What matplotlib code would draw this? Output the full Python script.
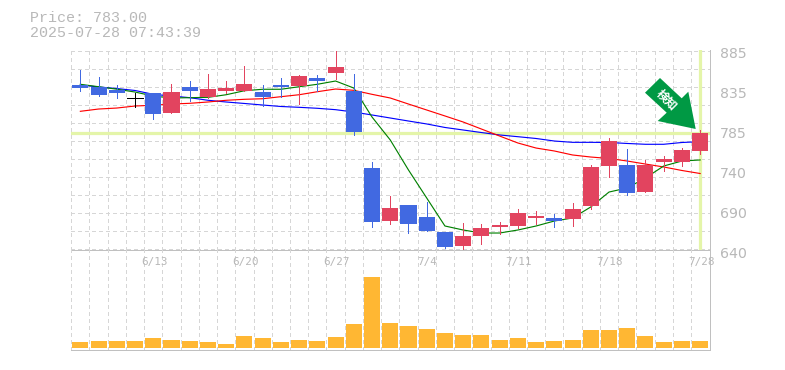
import numpy as np
import matplotlib
matplotlib.use("Agg")
import matplotlib.pyplot as plt
from matplotlib.patches import Polygon
from matplotlib.transforms import Affine2D

price_now = 783.00
stamp = "2025-07-28 07:43:39"
tick_dates = {4: "6/13", 9: "6/20", 14: "6/27", 19: "7/4", 24: "7/11", 29: "7/18", 34: "7/28"}
price_labels = ["640", "690", "740", "785", "835", "885"]

opens = [842.1, 839.3, 836.0, 825.8, 832.3, 807.8, 839.7, 827.4, 834.8, 834.8, 833.5, 842.0,
         840.9, 850.7, 856.8, 834.8, 740.5, 675.5, 695.1, 680.4, 662.0, 644.9, 657.2, 668.2,
         669.4, 679.2, 679.2, 678.0, 693.9, 742.9, 744.1, 711.0, 747.8, 747.8, 761.3]
closes = [838.8, 829.9, 832.7, 825.8, 806.6, 833.5, 834.8, 837.2, 838.4, 843.4, 827.4, 839.7,
          853.2, 847.0, 864.2, 784.6, 674.3, 691.4, 671.9, 663.3, 643.7, 657.2, 667.0, 670.6,
          685.3, 681.6, 675.5, 690.2, 741.7, 773.5, 709.8, 744.1, 751.5, 762.5, 783.3]
highs = [860.5, 852.0, 842.0, 832.0, 832.3, 843.3, 847.0, 855.6, 847.0, 865.4, 842.0, 850.7,
         854.4, 854.4, 884.0, 855.6, 747.8, 706.2, 695.1, 698.8, 662.0, 673.0, 671.9, 674.3,
         690.2, 687.8, 684.1, 697.6, 744.1, 777.2, 763.7, 750.3, 755.2, 765.0, 787.0]
lows = [835.1, 828.6, 826.2, 815.5, 800.5, 807.8, 822.5, 826.2, 832.3, 834.8, 816.4, 827.4,
        818.9, 834.8, 849.5, 780.9, 668.2, 671.9, 660.8, 663.3, 642.5, 641.2, 647.3, 659.6,
        667.0, 671.9, 668.2, 669.4, 690.2, 729.4, 707.4, 711.0, 736.8, 742.9, 757.6]
ma_short = [843.0, 840.0, 837.0, 833.5, 828.6, 826.2, 826.6, 827.0, 830.2, 835.1, 836.9, 836.9,
            840.0, 843.0, 847.0, 838.4, 802.9, 774.8, 738.0, 703.7, 669.4, 664.5, 660.8, 660.8,
            664.5, 669.4, 675.5, 679.2, 692.7, 711.0, 716.0, 728.2, 742.9, 749.0, 750.3]
ma_mid = [809.9, 812.7, 813.9, 816.4, 817.3, 818.8, 819.7, 821.3, 823.4, 824.6, 825.3, 827.8,
          830.2, 833.9, 837.2, 835.6, 830.7, 826.2, 818.8, 811.5, 804.2, 796.8, 788.2, 779.6,
          771.1, 764.9, 761.3, 756.4, 753.9, 752.1, 749.0, 745.3, 741.7, 737.4, 733.7]
ma_long = [842.1, 839.7, 837.8, 835.4, 830.7, 828.6, 826.6, 823.4, 821.3, 819.5, 817.6, 815.8,
           814.8, 813.6, 811.9, 809.0, 805.4, 801.7, 798.0, 794.4, 790.1, 787.0, 783.9, 780.9,
           778.8, 776.6, 773.5, 771.9, 771.9, 771.7, 770.5, 769.5, 769.5, 771.7, 772.7]
volumes = [6, 7, 7, 7, 10, 8, 7, 6, 4, 12, 10, 6, 8, 7, 11, 24, 71, 25,
           22, 19, 15, 13, 13, 8, 10, 6, 7, 8, 18, 18, 20, 12, 6, 7, 7]

W, H = 785, 370
RED, BLUE, ORANGE = "#e2445f", "#4169e1", "#ffb733"
GRID, FRAME, TEXT, HILITE = "#d6d6d6", "#c0c0c0", "#b8b8b8", "#e4f5a9"
PX = 0.72  # one pixel in points at dpi 100

plt.rcParams["font.family"] = ["DejaVu Sans", "Noto Sans CJK JP"]
fig = plt.figure(figsize=(W / 100, H / 100), dpi=100, facecolor="white")

def box(l, t, r, b):
    return [l / W, 1 - b / H, (r - l) / W, (b - t) / H]

ax = fig.add_axes(box(70.5, 50, 710, 250))
av = fig.add_axes(box(70.5, 250, 710, 350))
n = len(opens)
x = np.arange(n)
xlim = (-0.54, 34.54)
px_per_unit = 1.225

for a in (ax, av):
    a.set_xlim(*xlim)
    a.set_xticks([])
    a.set_yticks([])
    a.patch.set_alpha(0)
    for s in a.spines.values():
        s.set_visible(False)
    for side in ("right", "bottom"):
        a.spines[side].set_visible(True)
        a.spines[side].set_color(FRAME)
        a.spines[side].set_linewidth(PX)
        a.spines[side].set_antialiased(False)
    for g in np.arange(-0.5, n - 1, 1):
        a.axvline(g, color=GRID, lw=PX, ls=(0, (3, 3)), zorder=1, antialiased=False)

ax.set_ylim(640, 885)
av.set_ylim(-2, 98)

for g in 640 + px_per_unit * (1.5 + 18 * np.arange(12)):
    ax.axhline(g, color=GRID, lw=PX, ls=(0, (3, 3)), zorder=1, antialiased=False)

ax.axhline(price_now, color=HILITE, lw=PX * 3.2, zorder=2)
ax.axvline(x[-1], ymin=0, ymax=0.995, color=HILITE, lw=PX * 3.2, zorder=2)

ax.plot(x, ma_long, color="#0000ff", lw=PX * 1.15, zorder=3)
ax.plot(x, ma_mid, color="#ff0000", lw=PX * 1.15, zorder=3)
ax.plot(x, ma_short, color="#008000", lw=PX * 1.15, zorder=3)

for i in x:
    o, c = opens[i], closes[i]
    col = "black" if o == c else (RED if c > o else BLUE)
    ax.vlines(i, lows[i], highs[i], color=col, lw=PX, zorder=4, antialiased=False)
    if o == c:
        ax.hlines(o, i - 0.44, i + 0.44, color=col, lw=PX, zorder=4, antialiased=False)
    else:
        ax.bar(i, abs(c - o), bottom=min(o, c), width=0.88, color=col, lw=0, zorder=4)

av.bar(x, volumes, width=0.88, color=ORANGE, lw=0, zorder=3)

for k, lab in enumerate(price_labels):
    ax.annotate(lab, xy=(1, 640 + 49 * k), xycoords=ax.get_yaxis_transform(),
                xytext=(10, -3.5), textcoords="offset pixels", ha="left", va="center",
                color=TEXT, fontsize=10.2, annotation_clip=False)
for i, lab in tick_dates.items():
    av.annotate(lab, xy=(i, 1), xycoords=av.get_xaxis_transform(),
                xytext=(1, -12), textcoords="offset pixels", ha="center", va="center",
                color=TEXT, fontsize=7.9, family="DejaVu Sans Mono", zorder=6,
                annotation_clip=False)

fig.text(30 / W, 1 - 18 / H, f"Price: {price_now:.2f}", color=TEXT, fontsize=10.8,
         family="Liberation Mono", va="center", ha="left")
fig.text(30 / W, 1 - 33 / H, stamp, color=TEXT, fontsize=10.8,
         family="Liberation Mono", va="center", ha="left")

# "detected" arrow badge, in figure pixels from the top left
to_px = Affine2D().scale(1, -1).translate(0, H)
badge = [(660, 78), (681.7, 98.3), (688.3, 91.7), (695.7, 129), (657.7, 121), (666.7, 112.7), (645, 92.7)]
fig.add_artist(Polygon(badge, closed=True, facecolor="#009944", edgecolor="none",
                       transform=to_px, zorder=8))
fig.text(666.7 / W, 1 - 100.3 / H, "検知", color="white", fontsize=8.6, fontweight="bold",
         rotation=-45, rotation_mode="anchor", ha="center", va="center",
         family="Noto Sans CJK JP", zorder=9)

fig.savefig("out.png", dpi=100)
